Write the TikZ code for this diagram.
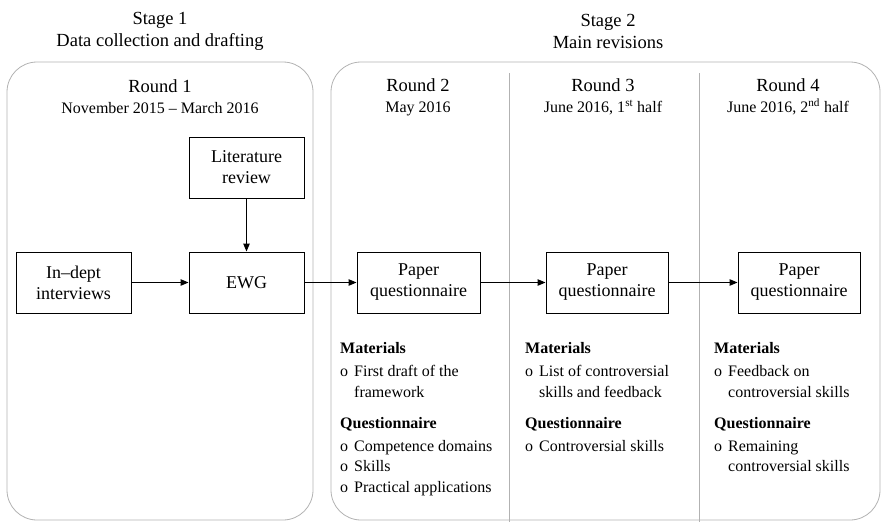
\documentclass[tikz,border=0pt]{standalone}
\usepackage{fontspec}
\setmainfont{Liberation Serif}
\usepackage{tikz}
\usetikzlibrary{arrows.meta,positioning}
\newcommand{\datef}{\fontsize{16}{21}\selectfont}
\newcommand{\hd}[1]{\multicolumn{2}{@{}l}{\textbf{#1}}}
\tikzset{
  stg/.style={draw=gray!60, line width=0.8pt, rounded corners=30pt},
  sep/.style={draw=gray!60, line width=0.8pt},
  hdr/.style={align=center, font=\fontsize{18.5}{22}\selectfont, inner sep=0pt},
  rnd/.style={align=center, font=\fontsize{18.5}{21}\selectfont, inner sep=0pt},
  blk/.style={rectangle, draw, line width=1pt, align=center,
              font=\fontsize{18}{21}\selectfont, inner sep=2pt,
              minimum width=115pt, minimum height=61pt},
  lst/.style={anchor=north west, inner sep=0pt, align=left,
              font=\fontsize{16}{20.5}\selectfont},
  fl/.style={-{Triangle[length=8pt,width=6.5pt]}, line width=1pt},
}

\begin{document}
\begin{tikzpicture}[x=1pt,y=-1pt]
\useasboundingbox (0,0) rectangle (885,522);
% stage frames
\draw[stg] (7,62) rectangle (313,520);
\draw[stg] (331,62) rectangle (880,520);
\foreach \x in {509,699}
  \draw[sep] (\x,73) -- (\x,522);
% headings
\node[hdr] (st1) at (160,31) {Stage 1\\Data collection and drafting};
\node[hdr] (st2) at (608,31) {Stage 2\\Main revisions};
\node[rnd] (r1) at (160,97) {Round 1\\{\datef November 2015 -- March 2016}};
\node[rnd] (r2) at (418,97) {Round 2\\{\datef May 2016}};
\node[rnd] (r3) at (603,97) {Round 3\\{\datef June 2016, 1\textsuperscript{st} half}};
\node[rnd] (r4) at (788,97) {Round 4\\{\datef June 2016, 2\textsuperscript{nd} half}};
% boxes
\node[blk] (indept) at (73.5,282.5) {In--dept\\interviews};
\node[blk, right=57pt of indept] (ewg) {EWG};
\node[blk, above=53pt of ewg] (lit) {Literature\\review};
\node[blk, minimum width=123pt, right=52pt of ewg] (pq1) {Paper\\questionnaire};
\node[blk, minimum width=122pt, right=65pt of pq1] (pq2) {Paper\\questionnaire};
\node[blk, minimum width=122pt, right=69pt of pq2] (pq3) {Paper\\questionnaire};
\draw[fl] (indept) -- (ewg);
\draw[fl] (lit) -- (ewg);
\draw[fl] (ewg) -- (pq1);
\draw[fl] (pq1) -- (pq2);
\draw[fl] (pq2) -- (pq3);
% materials and questionnaire lists
\node[lst] (l2) at (340,338.6) {\begin{tabular}{@{}l@{\hspace{6pt}}l@{}}
  \hd{Materials}\\[3pt]
  o & First draft of the\\
    & framework\\[11pt]
  \hd{Questionnaire}\\[2pt]
  o & Competence domains\\
  o & Skills\\
  o & Practical applications
\end{tabular}};
\node[lst] (l3) at (525,338.6) {\begin{tabular}{@{}l@{\hspace{6pt}}l@{}}
  \hd{Materials}\\[3pt]
  o & List of controversial\\
    & skills and feedback\\[11pt]
  \hd{Questionnaire}\\[2pt]
  o & Controversial skills
\end{tabular}};
\node[lst] (l4) at (714,338.6) {\begin{tabular}{@{}l@{\hspace{6pt}}l@{}}
  \hd{Materials}\\[3pt]
  o & Feedback on\\
    & controversial skills\\[11pt]
  \hd{Questionnaire}\\[2pt]
  o & Remaining\\
    & controversial skills
\end{tabular}};
\end{tikzpicture}
\end{document}
